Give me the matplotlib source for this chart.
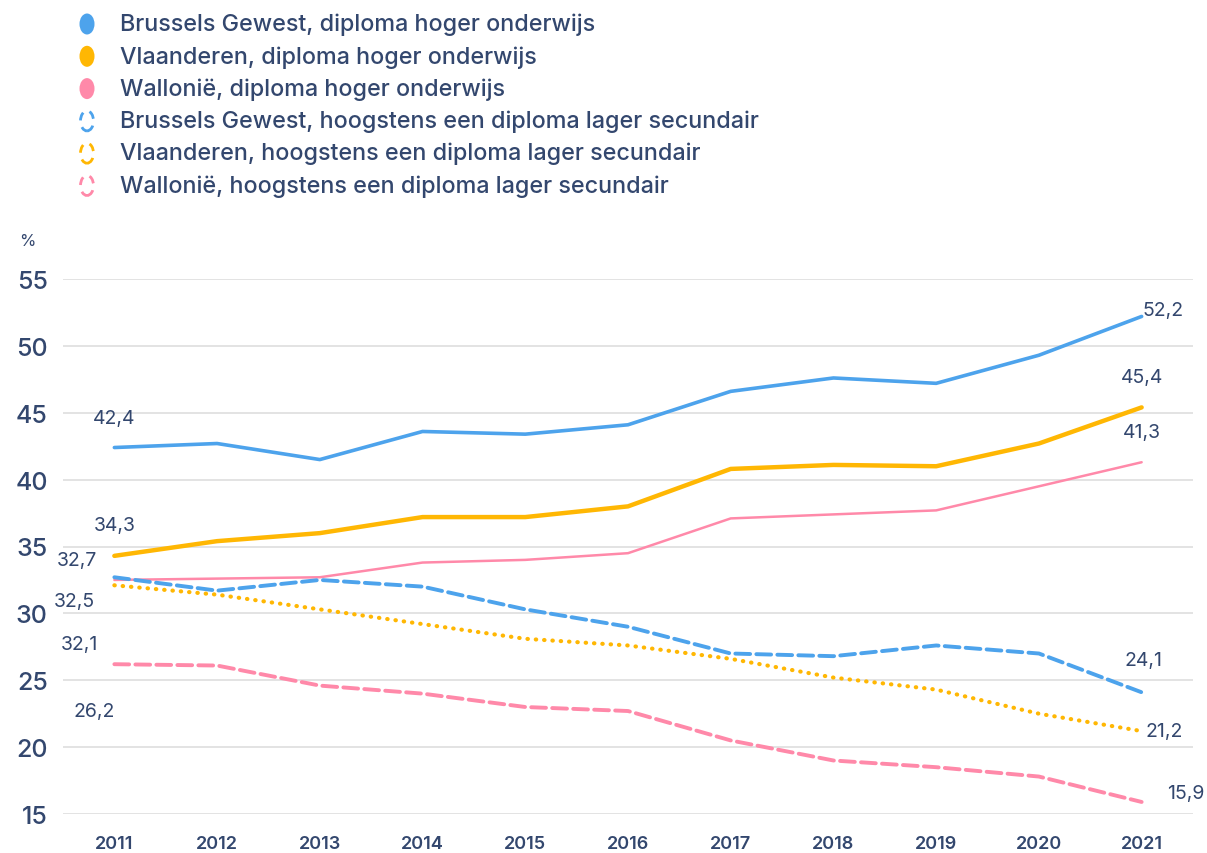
import matplotlib.pyplot as plt
from matplotlib.patches import Ellipse

plt.rcParams['font.family'] = ['Inter', 'DejaVu Sans']

years = list(range(2011, 2022))

bru_hoger = [42.4, 42.7, 41.5, 43.6, 43.4, 44.1, 46.6, 47.6, 47.2, 49.3, 52.2]
vla_hoger = [34.3, 35.4, 36.0, 37.2, 37.2, 38.0, 40.8, 41.1, 41.0, 42.7, 45.4]
wal_hoger = [32.5, 32.6, 32.7, 33.8, 34.0, 34.5, 37.1, 37.4, 37.7, 39.5, 41.3]
bru_lager = [32.7, 31.7, 32.5, 32.0, 30.3, 29.0, 27.0, 26.8, 27.6, 27.0, 24.1]
vla_lager = [32.1, 31.4, 30.3, 29.2, 28.1, 27.6, 26.6, 25.2, 24.3, 22.5, 21.2]
wal_lager = [26.2, 26.1, 24.6, 24.0, 23.0, 22.7, 20.5, 19.0, 18.5, 17.8, 15.9]

names = [
    'Brussels Gewest, diploma hoger onderwijs',
    'Vlaanderen, diploma hoger onderwijs',
    'Wallonië, diploma hoger onderwijs',
    'Brussels Gewest, hoogstens een diploma lager secundair',
    'Vlaanderen, hoogstens een diploma lager secundair',
    'Wallonië, hoogstens een diploma lager secundair',
]

BLUE = '#4DA3EC'
YELLOW = '#FFB703'
PINK = '#FF89A9'
TXT = '#33476E'

series = [
    # values, color, lw, linestyle, start label offset (px), end label offset (px)
    (bru_hoger, BLUE, 2.6, '-', (0, 30), (21, 6)),
    (vla_hoger, YELLOW, 3.2, '-', (0, 31), (0, 30)),
    (wal_hoger, PINK, 1.8, '-', (-40, -21), (0, 30)),
    (bru_lager, BLUE, 2.8, (0, (3.8, 1.6)), (-37, 17), (2, 32)),
    (vla_lager, YELLOW, 3.0, (0, (0.1, 1.9)), (-35, -59), (23, 0)),
    (wal_lager, PINK, 2.8, (0, (3.8, 1.6)), (-20, -47), (44, 9)),
]

fig = plt.figure(figsize=(12.07, 8.54), dpi=100)
ax = fig.add_axes([63 / 1207, 39 / 854, 1130 / 1207, 535 / 854])

px = 0.72  # pixels -> points
for vals, col, lw, ls, off0, off1 in series:
    ax.plot(years, vals, color=col, lw=lw, linestyle=ls,
            solid_capstyle='round', dash_capstyle='round', zorder=3)
    for i, off in ((0, off0), (-1, off1)):
        ax.annotate(f"{vals[i]:.1f}".replace('.', ','), (years[i], vals[i]),
                    xytext=(off[0] * px, off[1] * px), textcoords='offset points',
                    ha='center', va='center', fontsize=14, color=TXT)

ax.set_xlim(2010.5, 2021.5)
ax.set_ylim(15, 55)
ax.set_yticks(range(15, 56, 5))
ax.set_xticks(years)
ax.grid(axis='y', color='#E3E3E3', lw=1.4)
ax.set_axisbelow(True)
for s in ax.spines.values():
    s.set_visible(False)
ax.tick_params(axis='y', length=0, pad=11, labelsize=18, labelcolor=TXT)
ax.tick_params(axis='x', length=0, pad=15, labelsize=13, labelcolor=TXT)
for lab in ax.get_xticklabels():
    lab.set_fontweight('semibold')
for lab in ax.get_yticklabels():
    lab.set_fontweight('medium')

fig.text(27 / 1207, 1 - 242 / 854, '%', ha='center', va='center', fontsize=12, color=TXT)

# legend
styles = [(BLUE, True), (YELLOW, True), (PINK, True),
          (BLUE, False), (YELLOW, False), (PINK, False)]
for k, (name, (col, filled)) in enumerate(zip(names, styles)):
    yc = 1 - (25 + k * 32.3) / 854
    if filled:
        e = Ellipse((87 / 1207, yc), 15 / 1207, 21 / 854, transform=fig.transFigure,
                    facecolor=col, edgecolor='none')
    else:
        e = Ellipse((87 / 1207, yc), 13 / 1207, 20 / 854, transform=fig.transFigure,
                    facecolor='none', edgecolor=col, lw=2, linestyle=(0, (3, 2.5)))
    fig.patches.append(e)
    fig.text(120 / 1207, yc, name, ha='left', va='center', fontsize=16.8,
             color=TXT, fontweight='medium')

fig.savefig('out.png', dpi=100)
